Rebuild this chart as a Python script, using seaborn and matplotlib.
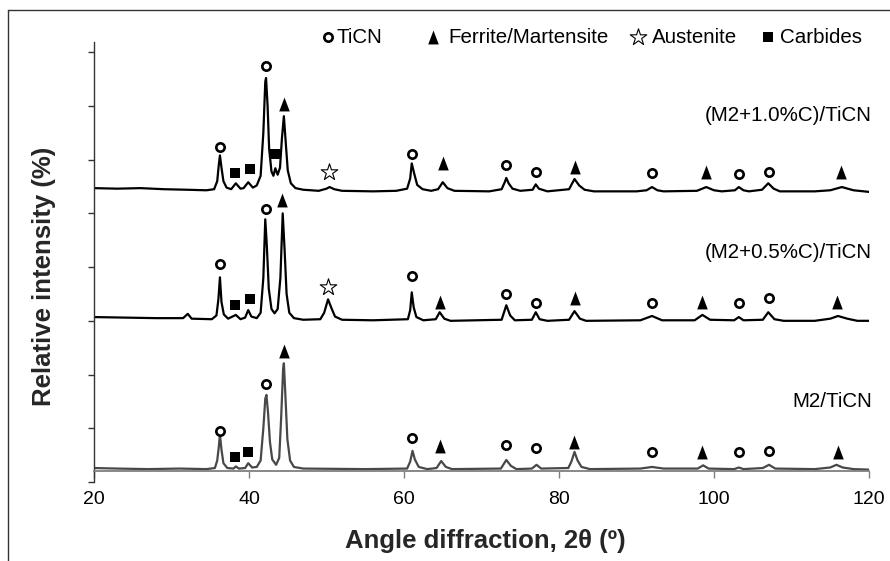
import numpy as np
import pandas as pd
import matplotlib
matplotlib.use("Agg")
import matplotlib.pyplot as plt
import seaborn as sns
from matplotlib.lines import Line2D
from matplotlib.path import Path

# ---------------- data ----------------
samples = ["(M2+1.0%C)/TiCN", "(M2+0.5%C)/TiCN", "M2/TiCN"]

top_x = [20.0, 23, 26, 29, 32, 34.5, 35.5, 35.9, 36.1, 36.25, 36.45, 36.7, 37.1, 37.7, 38.3, 38.9,
         39.3, 39.9, 40.5, 41.0, 41.5, 41.85, 42.1, 42.2, 42.4, 42.6, 42.9, 43.15, 43.4, 43.7, 44.0,
         44.25, 44.5, 44.75, 45.0, 45.4, 46.0, 47, 49.0, 50.0, 50.4, 51.0, 52, 56, 59, 60.4, 60.8,
         61.0, 61.3, 61.7, 62.4, 63.5, 64.4, 65.0, 65.6, 66.5, 71, 72.6, 73.0, 73.2, 73.5, 74.0, 75,
         76.6, 77.0, 77.4, 78.5, 81.3, 82.0, 82.6, 83.3, 84.5, 90, 91.3, 92.0, 92.7, 93.5, 97.8, 99.0,
         100, 101, 102.7, 103.2, 103.8, 104.5, 106.2, 107.0, 107.7, 108.5, 113, 115, 116.5, 118, 120]
top_y = [547, 546, 547, 545, 544, 543, 545, 560, 590, 608, 585, 560, 548, 545, 556, 546,
         547, 558, 548, 552, 570, 650, 745, 752, 700, 620, 578, 570, 584, 572, 585,
         640, 681, 630, 580, 556, 547, 544, 542, 546, 549, 545, 542, 541, 542, 546, 565,
         593, 575, 553, 545, 542, 545, 558, 547, 542, 541, 545, 558, 566, 556, 546, 542,
         544, 554, 546, 541, 545, 564, 552, 544, 541, 541, 543, 549, 543, 541, 542, 549,
         543, 541, 543, 549, 543, 541, 544, 556, 546, 541, 541, 543, 549, 543, 540]

mid_x = [20, 24, 28, 31.5, 32.1, 32.6, 35.2, 35.8, 36.05, 36.25, 36.45, 36.75, 37.3, 38.3, 38.9,
         39.5, 39.9, 40.3, 41.0, 41.5, 41.85, 42.1, 42.3, 42.55, 42.9, 43.3, 43.7, 44.05, 44.35,
         44.6, 44.85, 45.2, 45.8, 47, 49.2, 49.7, 50.2, 50.6, 51.1, 52, 56, 60.5, 60.8, 61.0,
         61.25, 61.6, 62.5, 64.1, 64.6, 65.2, 66, 72.6, 73.2, 73.7, 74.3, 76.5, 77.0, 77.5, 78.5,
         81.3, 82.0, 82.7, 83.5, 90.5, 92.0, 93.3, 97.5, 98.5, 99.5, 102.6, 103.2, 103.8, 106.3,
         107.0, 107.8, 109, 113, 115, 116, 117.2, 118.5, 120]
mid_y = [307, 306, 305, 305, 313, 304, 303, 310, 340, 381, 335, 312, 304, 311, 303,
         306, 320, 308, 305, 315, 380, 489, 440, 360, 322, 314, 322, 380, 500,
         430, 350, 315, 305, 302, 303, 315, 340, 325, 308, 302, 301, 303, 320, 353,
         325, 307, 301, 303, 316, 304, 300, 302, 329, 310, 301, 302, 316, 303, 300,
         302, 318, 304, 300, 301, 309, 301, 301, 311, 302, 301, 307, 301, 302,
         316, 303, 300, 300, 304, 309, 304, 300, 300]

bot_x = [20, 23, 27, 31, 34.5, 35.6, 35.9, 36.1, 36.25, 36.45, 36.7, 37.2, 38.0, 38.3, 38.7, 39.5,
         39.9, 40.4, 41.0, 41.5, 41.85, 42.1, 42.25, 42.45, 42.7, 43.0, 43.5, 43.9, 44.15, 44.4,
         44.5, 44.7, 44.95, 45.3, 45.8, 47, 55, 60.4, 60.8, 61.1, 61.4, 61.9, 63, 64.2, 64.8, 65.4,
         66.2, 72.5, 73.2, 73.8, 74.5, 76.5, 77.1, 77.7, 81.2, 81.6, 82.0, 82.4, 82.9, 84, 90.5,
         92.0, 93.5, 97.9, 98.6, 99.3, 102.6, 103.2, 103.8, 106.3, 107.1, 107.9, 113, 115, 115.8,
         116.6, 118, 120]
bot_y = [26, 25, 24, 25, 24, 26, 40, 65, 89, 60, 35, 26, 25, 29, 25, 26,
         35, 27, 28, 40, 100, 155, 162, 130, 75, 42, 32, 45, 120, 210,
         221, 160, 80, 40, 28, 25, 24, 25, 38, 58, 42, 28, 24, 26, 39, 28,
         24, 25, 41, 30, 24, 25, 32, 25, 26, 38, 56, 40, 28, 24, 25,
         28, 25, 25, 31, 25, 24, 27, 24, 26, 32, 25, 24, 27, 32,
         27, 24, 23]

# phase markers: (2theta, intensity)
ticn_x = [36.2, 42.15, 61.0, 73.2, 77.0, 92.0, 103.2, 107.1,
          36.2, 42.15, 61.0, 73.2, 77.0, 92.0, 103.2, 107.1,
          36.2, 42.15, 61.0, 73.2, 77.0, 92.0, 103.2, 107.1]
ticn_y = [623, 774, 610, 590, 577, 575, 573, 577,
          406, 508, 383, 350, 333, 333, 333, 342,
          95, 182, 82, 69, 63, 56, 56, 58]
ferr_x = [44.5, 65.0, 82.1, 99.0, 116.4,
          44.3, 64.6, 82.0, 98.5, 115.9,
          44.5, 64.7, 81.9, 98.5, 116.0]
ferr_y = [703, 593, 586, 577, 577,
          525, 335, 342, 335, 335,
          244, 67, 74, 56, 56]
aust_x = [50.3, 50.2]
aust_y = [577, 363]
carb_x = [38.2, 40.1, 43.4, 38.2, 40.1, 38.2, 39.9]
carb_y = [575, 582, 610, 329, 340, 47, 56]

legend_labels = ["TiCN", "Ferrite/Martensite", "Austenite", "Carbides"]
xticks = [20, 40, 60, 80, 100, 120]
xlabel = "Angle diffraction, 2θ (º)"
ylabel = "Relative intensity (%)"

# ---------------- figure ----------------
sns.set_style("white")
plt.rcParams["font.family"] = ["Liberation Sans", "DejaVu Sans"]

W, H = 890, 561
fig = plt.figure(figsize=(W / 100, H / 100), dpi=100)
ax = fig.add_axes([94 / W, 1 - 482 / H, (869 - 94) / W, (482 - 42) / H])

df = pd.concat([
    pd.DataFrame({"angle": top_x, "intensity": top_y, "sample": samples[0]}),
    pd.DataFrame({"angle": mid_x, "intensity": mid_y, "sample": samples[1]}),
    pd.DataFrame({"angle": bot_x, "intensity": bot_y, "sample": samples[2]}),
], ignore_index=True)

palette = {samples[0]: "#000000", samples[1]: "#000000", samples[2]: "#484848"}
sns.lineplot(data=df, x="angle", y="intensity", hue="sample", palette=palette,
             estimator=None, sort=False, legend=False, linewidth=1.6, ax=ax)

tri = Path([(-0.38, -0.5), (0.38, -0.5), (0.0, 0.5), (-0.38, -0.5)],
           [Path.MOVETO, Path.LINETO, Path.LINETO, Path.CLOSEPOLY])

CIRC_S, TRI_S, STAR_S, SQ_S = 6.0 ** 2, 10 ** 2, 12.5 ** 2, 7.2 ** 2

sns.scatterplot(x=ticn_x, y=ticn_y, marker="o", s=CIRC_S, facecolor="white",
                edgecolor="black", linewidth=1.9, ax=ax, zorder=5)
sns.scatterplot(x=ferr_x, y=ferr_y, marker=tri, s=TRI_S, color="black",
                edgecolor="black", linewidth=0, ax=ax, zorder=5)
sns.scatterplot(x=aust_x, y=aust_y, marker="*", s=STAR_S, facecolor="white",
                edgecolor="black", linewidth=0.8, ax=ax, zorder=5)
sns.scatterplot(x=carb_x, y=carb_y, marker="s", s=SQ_S, color="black",
                edgecolor="black", linewidth=0, ax=ax, zorder=5)

ax.set_xlim(20, 120)
ax.set_ylim(0, 819)
ax.set_xticks(xticks)
ax.set_yticks(range(0, 801, 100))
ax.set_yticklabels([])
ax.set_xlabel("")
ax.set_ylabel("")

for s in ["top", "right"]:
    ax.spines[s].set_visible(False)
ax.spines["bottom"].set_position(("data", 20))
ax.spines["bottom"].set_color("#7f7f7f")
ax.spines["bottom"].set_linewidth(1.3)
ax.spines["left"].set_color("#333333")
ax.spines["left"].set_linewidth(1.0)
ax.tick_params(axis="x", direction="out", length=5, width=1.0, color="#7f7f7f",
               labelsize=14, pad=9, labelcolor="black", bottom=True)
ax.tick_params(axis="y", direction="out", length=4, width=1.0, color="#333333", left=True)

# curve labels
lab_y = [683, 428, 149]
for name, yy in zip(samples, lab_y):
    ax.text(120.4, yy, name, ha="right", va="center", fontsize=14.8, color="black")

# legend along the top
leg_mx = [50.19, 63.74, 90.19, 106.97]
leg_tx = [51.35, 65.68, 92.0, 108.52]
leg_y = 828
ax.scatter([leg_mx[0]], [leg_y], marker="o", s=CIRC_S, facecolor="white",
           edgecolor="black", linewidth=1.9, clip_on=False, zorder=6)
ax.scatter([leg_mx[1]], [leg_y], marker=tri, s=TRI_S, color="black",
           linewidth=0, clip_on=False, zorder=6)
ax.scatter([leg_mx[2]], [leg_y], marker="*", s=STAR_S, facecolor="white",
           edgecolor="black", linewidth=0.8, clip_on=False, zorder=6)
ax.scatter([leg_mx[3]], [leg_y], marker="s", s=SQ_S, color="black",
           linewidth=0, clip_on=False, zorder=6)
for tx, lab in zip(leg_tx, legend_labels):
    ax.text(tx, leg_y, lab, ha="left", va="center", fontsize=14.8, color="black",
            clip_on=False)

# axis titles
fig.text(485 / W, 1 - 541 / H, xlabel, ha="center", va="center",
         fontsize=18.5, fontweight="bold")
fig.text(44 / W, 1 - 276 / H, ylabel, ha="center", va="center", rotation=90,
         fontsize=18.5, fontweight="bold")

# outer frame (partially cropped in the reference)
fig.add_artist(Line2D([8 / W, 1.0], [1 - 10 / H, 1 - 10 / H], color="#333333", lw=1.0))
fig.add_artist(Line2D([8 / W, 8 / W], [1 - 10 / H, 0.0], color="#333333", lw=1.0))

fig.savefig("out.png", dpi=100, facecolor="white")
